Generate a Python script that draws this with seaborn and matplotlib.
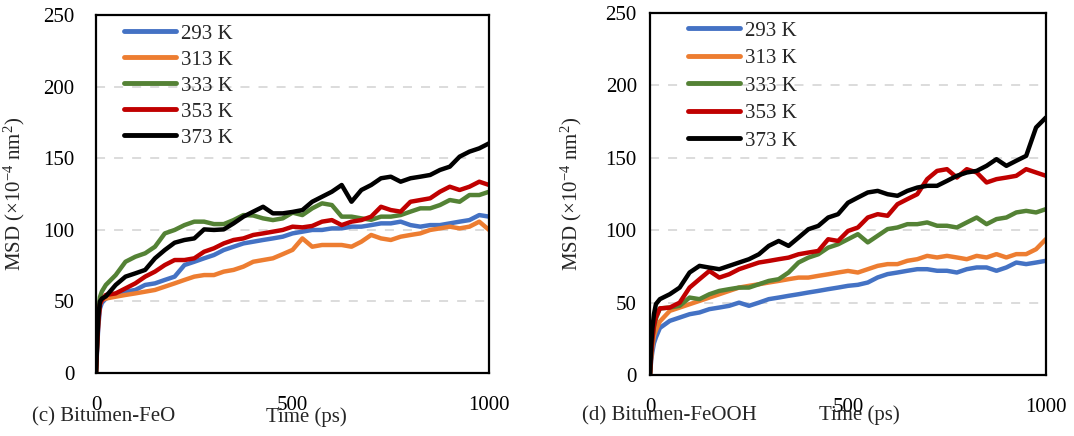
import matplotlib
matplotlib.use("Agg")
import matplotlib.pyplot as plt
from matplotlib.ticker import MultipleLocator
from matplotlib.lines import Line2D
import pandas as pd
import seaborn as sns

sns.set_style("white")
plt.rcParams["font.family"] = ["Liberation Serif", "DejaVu Serif"]
plt.rcParams["mathtext.fontset"] = "custom"
plt.rcParams["mathtext.rm"] = "Liberation Serif"
plt.rcParams["mathtext.it"] = "Liberation Serif:italic"

# Temps (ps)
time_ps = [0, 3, 6, 10, 15, 25, 50, 75, 100, 125, 150, 175, 200, 225, 250,
           275, 300, 325, 350, 375, 400, 425, 450, 475, 500, 525, 550, 575,
           600, 625, 650, 675, 700, 725, 750, 775, 800, 825, 850, 875, 900,
           925, 950, 975, 1000]

temps = ["293 K", "313 K", "333 K", "353 K", "373 K"]
colors = ["#4472C4", "#ED7D31", "#548235", "#C00000", "#000000"]

# (c) Bitumen-FeO
feo_293 = [0, 18, 33, 45, 49, 52, 54.5, 56.8, 58, 61.5, 62.6, 65, 67.3, 75.4, 77.7,
           80.1, 82.4, 85.9, 88.2, 90.5, 91.7, 92.9, 94, 95.2, 97.5, 98.7, 99.9, 99.9,
           101, 101, 102.2, 102.2, 103.3, 104.5, 104.5, 105.7, 103.3, 102.2, 103.3, 103.3,
           104.5, 105.7, 106.8, 110.3, 109.2]
feo_313 = [0, 22, 38, 48, 51, 52, 53.3, 54.5, 55.6, 56.8, 58, 60.3, 62.6, 65, 67.3,
           68.4, 68.4, 70.8, 72, 74.3, 77.7, 78.9, 80.1, 83, 86, 94, 88.2, 89.4,
           89.4, 89.4, 88.2, 91.7, 96.4, 94, 92.9, 95.2, 96.4, 97.5, 99.9, 101,
           102.2, 101, 102.2, 105.7, 99.9]
feo_333 = [0, 25, 42, 53, 57, 61.5, 68.4, 77.7, 81.2, 83.6, 88.2, 97.5, 99.9, 103.3, 105.7,
           105.7, 104, 104, 106.8, 110.3, 110, 108, 106.8, 108, 112, 110.3, 115, 118.5,
           117.3, 109.2, 109.2, 108, 107, 109.2, 109.2, 110.3, 112.7, 115, 115, 117.3,
           120.8, 119.6, 124.3, 124.3, 126.6]
feo_353 = [0, 20, 36, 48, 51, 54.5, 55.6, 59.1, 62.6, 67.3, 70.8, 75.4, 78.9, 78.9, 80.1,
           84.7, 87.1, 90.5, 92.9, 94, 96.4, 97.5, 98.7, 99.9, 102.2, 101.7, 102.7, 105.7,
           106.8, 103.3, 105.7, 106.8, 109.2, 116.1, 113.8, 112.7, 119.6, 120.8, 122, 126.6,
           130.1, 127.8, 130.1, 133.6, 131.3]
feo_373 = [0, 22, 40, 50, 52, 53.5, 61.5, 67.3, 69.6, 72, 80.1, 85.9, 91, 92.9, 94,
           100.3, 99.9, 100.3, 104.5, 109.2, 112.7, 116.1, 111.5, 111.5, 112.5, 113.8, 119.6, 123.1,
           126.6, 131.3, 119.6, 127.8, 131.3, 136, 137.1, 133.6, 136, 137.1, 138.3, 141.8,
           144.1, 151.1, 154.6, 156.9, 160.4]

# (d) Bitumen-FeOOH
feooh_293 = [0, 10, 16, 22, 26, 32.5, 37.4, 39.7, 42, 43.2, 45.5, 46.6, 47.8, 50, 47.8,
             50, 52.4, 53.5, 54.7, 55.8, 57, 58.1, 59.3, 60.4, 61.6, 62.3, 63.9, 67.4,
             69.7, 70.8, 72, 73.1, 73.1, 72, 72, 70.8, 73.1, 74.3, 74.3, 72,
             74.3, 77.7, 76.6, 77.7, 78.9]
feooh_313 = [0, 12, 20, 27, 31, 37, 44.3, 46.6, 48.9, 51.2, 53.5, 55.8, 58.1, 60.4, 61.6,
             62.7, 63.9, 65, 66.2, 67.3, 67.3, 68.5, 69.6, 70.8, 71.9, 70.8, 73.1, 75.4,
             76.6, 76.6, 78.9, 80, 82.3, 81.2, 82.3, 81.2, 80, 82.3, 81.2, 83.5,
             81.2, 83.5, 83.5, 86.9, 93.9]
feooh_333 = [0, 15, 25, 33, 39, 46, 46.6, 47.8, 53.5, 52.4, 55.8, 58.1, 59.3, 60.4, 60.4,
             62.7, 65, 66.2, 70.8, 77.7, 81.1, 83.4, 88, 90.3, 93.8, 97.3, 91.6, 96.2,
             100.8, 101.9, 104.2, 104.2, 105.4, 103.1, 103.1, 101.9, 105.4, 108.8, 104.2, 107.7,
             108.8, 112.3, 113.4, 112.3, 114.6]
feooh_353 = [0, 15, 25, 34, 40, 46, 46.6, 50, 60.4, 66.2, 71.9, 67.3, 69.6, 73.1, 75.4,
             77.7, 78.8, 80, 81.1, 83.4, 84.6, 85.7, 93.8, 92.6, 99.5, 101.9, 108.8, 111.1,
             110, 118, 121.5, 124.9, 135.3, 141, 142.2, 136.4, 142.2, 139.9, 133, 135.3,
             136.4, 137.6, 142.2, 139.9, 137.6]
feooh_373 = [0, 20, 32, 42, 49, 52.4, 55.8, 60.4, 70.8, 75.4, 74.2, 73.1, 75.4, 77.7, 80,
             83.4, 89.2, 92.6, 89.2, 94.9, 100.7, 103, 108.8, 111.1, 119, 122.6, 126.1, 127.2,
             124.9, 123.8, 127.2, 129.5, 130.7, 130.7, 134.1, 137.6, 139.9, 141, 144.5, 149.1,
             144.5, 148, 151.4, 171, 177.9]

FS = 15


def to_long(series):
    frames = []
    for label, values in zip(temps, series):
        frames.append(pd.DataFrame({"Time": time_ps, "MSD": values, "T": label}))
    return pd.concat(frames, ignore_index=True)


def draw_panel(ax, series, ylab_pad, legend_anchor, spacing):
    df = to_long(series)
    sns.lineplot(data=df, x="Time", y="MSD", hue="T", palette=dict(zip(temps, colors)),
                 linewidth=3.2, estimator=None, sort=False, legend=False, ax=ax)
    ax.set_xlim(0, 1000)
    ax.set_ylim(0, 250)
    ax.xaxis.set_major_locator(MultipleLocator(500))
    ax.xaxis.set_minor_locator(MultipleLocator(100))
    ax.yaxis.set_major_locator(MultipleLocator(50))
    ax.yaxis.set_minor_locator(MultipleLocator(10))
    ax.yaxis.grid(True, which="major", color="#d9d9d9", linestyle=(0, (5, 5)), linewidth=1.3)
    ax.set_axisbelow(True)
    for sp in ax.spines.values():
        sp.set_color("black")
        sp.set_linewidth(1.6)
    ax.tick_params(which="major", direction="inout", length=9, width=1.5,
                   labelsize=FS, color="black", labelcolor="black")
    ax.tick_params(which="minor", direction="in", length=4, width=1.2, color="black")
    ax.tick_params(axis="x", which="major", pad=12)
    ax.tick_params(axis="y", which="major", pad=ylab_pad)
    ax.set_xlabel("Time (ps)", fontsize=FS)
    ax.set_ylabel(r"MSD ($\times$10$^{-4}$ nm$^{2}$)", fontsize=FS)
    handles = [Line2D([], [], color=c, lw=3.5) for c in colors]
    ax.legend(handles, temps, loc="upper left", bbox_to_anchor=legend_anchor, frameon=False,
              fontsize=FS, handlelength=2.5, handletextpad=0.25, labelspacing=spacing,
              borderpad=0, borderaxespad=0)


fig = plt.figure(figsize=(10.74, 4.36), dpi=100)
ax1 = fig.add_axes([0.0894, 0.1445, 0.366, 0.821])
ax2 = fig.add_axes([0.6052, 0.1399, 0.3687, 0.830])

draw_panel(ax1, [feo_293, feo_313, feo_333, feo_353, feo_373], 11, (0.07, 0.975), 0.31)
draw_panel(ax2, [feooh_293, feooh_313, feooh_333, feooh_353, feooh_373], 5, (0.095, 0.978), 0.38)

ax1.xaxis.set_label_coords(0.534, -0.097)
ax2.xaxis.set_label_coords(0.53, -0.085)
ax1.yaxis.set_label_coords(-0.175, 0.5)
ax2.yaxis.set_label_coords(-0.166, 0.5)

fig.text(32 / 1074, 1 - 407 / 436, "(c) Bitumen-FeO", fontsize=FS, va="top", ha="left")
fig.text(582 / 1074, 1 - 406 / 436, "(d) Bitumen-FeOOH", fontsize=FS, va="top", ha="left")

fig.savefig("out.png", dpi=100)
plt.close(fig)
